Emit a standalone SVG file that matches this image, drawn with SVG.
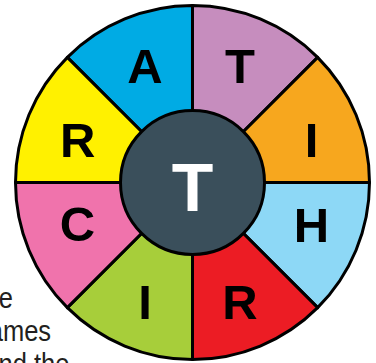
<svg xmlns="http://www.w3.org/2000/svg" width="376" height="363" viewBox="0 0 376 363">
<style>
.seg{stroke:#000;stroke-width:3;stroke-linejoin:round}
.lbl{font-family:"Liberation Sans",Arial,sans-serif;font-weight:bold;font-size:49px;fill:#000;text-anchor:middle}
.body{font-family:"Liberation Sans",Arial,sans-serif;font-size:30px;fill:#231f20}
</style>
<rect width="376" height="363" fill="#fff"/>
<g id="page-text" transform="scale(0.85,1)">
<text class="body" x="-1.5" y="308">e</text>
<text class="body" x="-13.2" y="341">ames</text>
<text class="body" x="-1.8" y="374">nd the</text>
</g>
<g id="connectors"></g>
<g id="seg-A"><path class="seg" fill="#00ABE4" d="M192.5 182.5 L67.34 57.34 A177 177 0 0 1 192.5 5.5 Z"/><text class="lbl" x="145" y="83.3">A</text></g>
<g id="seg-T"><path class="seg" fill="#C68DBE" d="M192.5 182.5 L192.5 5.5 A177 177 0 0 1 317.66 57.34 Z"/><text class="lbl" x="240" y="83.3">T</text></g>
<g id="seg-I1"><path class="seg" fill="#F7A71E" d="M192.5 182.5 L317.66 57.34 A177 177 0 0 1 369.5 182.5 Z"/><text class="lbl" x="311.5" y="157">I</text></g>
<g id="seg-H"><path class="seg" fill="#8DD8F6" d="M192.5 182.5 L369.5 182.5 A177 177 0 0 1 317.66 307.66 Z"/><text class="lbl" x="311.5" y="242">H</text></g>
<g id="seg-R2"><path class="seg" fill="#EC1C24" d="M192.5 182.5 L317.66 307.66 A177 177 0 0 1 192.5 359.5 Z"/><text class="lbl" x="240" y="318.5">R</text></g>
<g id="seg-I2"><path class="seg" fill="#A7CE3A" d="M192.5 182.5 L192.5 359.5 A177 177 0 0 1 67.34 307.66 Z"/><text class="lbl" x="145" y="318.5">I</text></g>
<g id="seg-C"><path class="seg" fill="#F073AC" d="M192.5 182.5 L67.34 307.66 A177 177 0 0 1 15.5 182.5 Z"/><text class="lbl" x="77.5" y="241">C</text></g>
<g id="seg-R1"><path class="seg" fill="#FFF100" d="M192.5 182.5 L15.5 182.5 A177 177 0 0 1 67.34 57.34 Z"/><text class="lbl" x="77.7" y="156.7">R</text></g>
<g id="hub"><circle cx="192.5" cy="182.5" r="72" fill="#3A4F5B" stroke="#000" stroke-width="3"/><text x="192.5" y="211" font-family="Liberation Sans,Arial,sans-serif" font-weight="bold" font-size="68" fill="#fff" text-anchor="middle">T</text></g>
</svg>
